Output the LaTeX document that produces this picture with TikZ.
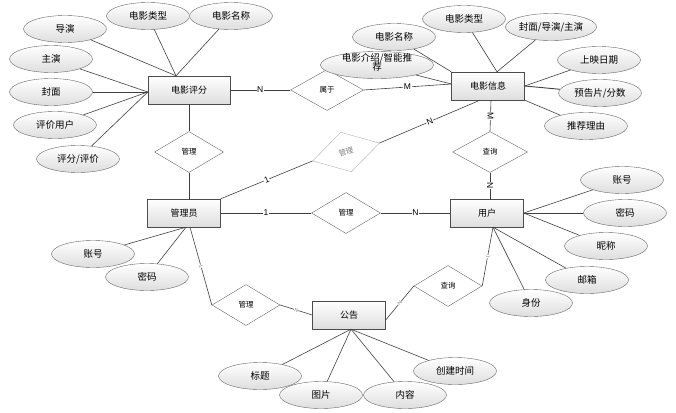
\documentclass[tikz,border=0pt]{standalone}
\usepackage{fontspec}
\newfontfamily\cjk{Noto Sans CJK SC}
\newfontfamily\lat{Liberation Sans}
\usetikzlibrary{shapes.geometric}
\begin{document}
\begin{tikzpicture}[x=1pt,y=-1pt,
  ent/.style={draw=black!70, top color=white, bottom color=black!13, minimum width=73pt, minimum height=28pt, inner sep=0pt, font=\cjk\fontsize{9}{10}\selectfont},
  attr/.style={ellipse, draw=black!60, top color=white, bottom color=black!13, minimum width=83pt, minimum height=27pt, inner sep=0pt, font=\cjk\fontsize{9.5}{11}\selectfont},
  rel/.style={diamond, draw=black!60, fill=white, minimum width=69pt, minimum height=41pt, inner sep=0pt, font=\cjk\fontsize{7.5}{8}\selectfont},
  ln/.style={draw=black!75, line width=0.6pt},
  lbl/.style={fill=white, inner sep=0.6pt, font=\lat\fontsize{8.5}{9}\selectfont},
  tiny/.style={fill=white, inner sep=0.3pt, text=black!50, font=\lat\fontsize{5}{5}\selectfont}]
\useasboundingbox (0,0) rectangle (676,412);
% entities
\node[ent, minimum width=82pt] (pf) at (189,90) {电影评分};
\node[ent] (xx) at (488,86) {电影信息};
\node[ent] (gly) at (184,213) {管理员};
\node[ent] (yh) at (487,213) {用户};
\node[ent] (gg) at (349,315) {公告};
% relations
\node[rel, minimum width=73pt] (sy) at (327,90) {属于};
\node[rel] (gl1) at (189,152) {管理};
\node[rel, draw=black!30, text=black!50, rotate=15] (gl2) at (346,152) {管理};
\node[rel] (gl3) at (346,213) {管理};
\node[rel, minimum width=75pt] (cx1) at (490,152) {查询};
\node[rel, minimum width=68pt] (gl4) at (246,305) {管理};
\node[rel, minimum width=68pt] (cx2) at (448,286) {查询};
% attributes of 电影评分
\node[attr] (a1) at (65,29) {导演};
\node[attr] (a2) at (51,59) {主演};
\node[attr] (a3) at (51,92) {封面};
\node[attr] (a4) at (55,125) {评价用户};
\node[attr] (a5) at (78,159) {评分/评价};
\node[attr] (a6) at (148,16) {电影类型};
\node[attr] (a7) at (231,16) {电影名称};
% attributes of 电影信息
\node[attr] (b1) at (394,37) {电影名称};
\node[attr] (b2) at (464,19) {电影类型};
\node[attr] (b3) at (551,27) {封面/导演/主演};
\node[attr] (b4) at (599,60) {上映日期};
\node[attr] (b5) at (600,93) {预告片/分数};
\node[attr] (b6) at (586,126) {推荐理由};
\node[attr] (b7) at (377,65) {\smash{\parbox{80pt}{\centering 电影介绍/智能推\\[-2pt]荐}}};
% attributes of 用户
\node[attr] (c1) at (622,180) {账号};
\node[attr] (c2) at (625,213) {密码};
\node[attr] (c3) at (606,246) {昵称};
\node[attr] (c4) at (587,280) {邮箱};
\node[attr] (c5) at (531,303) {身份};
% attributes of 管理员
\node[attr] (d1) at (93,254) {账号};
\node[attr] (d2) at (147,277) {密码};
% attributes of 公告
\node[attr] (e1) at (260,376) {标题};
\node[attr] (e2) at (321,395) {图片};
\node[attr] (e3) at (405,395) {内容};
\node[attr] (e4) at (455,371) {创建时间};
% attribute lines
\coordinate (pfT) at ([xshift=-13pt]pf.north);
\coordinate (pfL) at ([yshift=-2pt]pf.west);
\draw[ln] (a1) -- (pfT);
\draw[ln] (a6) -- (pfT);
\draw[ln] (a7) -- (pfT);
\draw[ln] (a2) -- (pfL);
\draw[ln] (a3) -- (pfL);
\draw[ln] (a4) -- (pfL);
\draw[ln] (a5) -- (pfL);
\coordinate (xxT) at ([xshift=9pt]xx.north);
\coordinate (xxL) at ([yshift=2pt]xx.west);
\draw[ln] (b1) -- (xx.north west);
\draw[ln] (b7) -- (xxL);
\draw[ln] (b2) -- (xxT);
\draw[ln] (b3) -- (xxT);
\draw[ln] (b4) -- (xx.east);
\draw[ln, line width=0.9pt] (b5) -- (xx.east);
\draw[ln] (b6) -- (xx.south east);
\draw[ln] (c1) -- (yh.east);
\draw[ln] (c2) -- (yh.east);
\draw[ln] (c3) -- (yh.east);
\coordinate (yhB) at ([xshift=6pt]yh.south);
\draw[ln] (c4) -- (yhB);
\draw[ln] (c5) -- (yhB);
\coordinate (glyB) at ([xshift=2pt]gly.south);
\draw[ln] (d1) -- (glyB);
\draw[ln] (d2) -- (glyB);
\coordinate (ggB) at ([xshift=2pt]gg.south);
\draw[ln] (e1) -- (ggB);
\draw[ln] (e2) -- (ggB);
\draw[ln] (e3) -- (ggB);
\draw[ln] (e4) -- (ggB);
% relationship lines
\draw[ln] (pf.east) -- node[lbl] {N} (sy.west);
\draw[ln] (sy.east) -- node[lbl] {M} (xxL);
\draw[ln] (pf.south) -- (gl1.north);
\draw[ln] (gl1.south) -- ([xshift=5pt]gly.north);
\draw[ln] (gly.north east) -- node[lbl, sloped] {1} (gl2.west);
\draw[ln] (gl2.east) -- node[lbl, sloped] {N} ([xshift=-8pt]xx.south);
\draw[ln] (gly.east) -- node[lbl] {1} (gl3.west);
\draw[ln] (gl3.east) -- node[lbl] {N} (yh.west);
\draw[ln] ([xshift=3pt]xx.south) -- node[lbl, rotate=-90] {M} (cx1.north);
\draw[ln] (cx1.south) -- node[lbl, rotate=-90] {N} ([xshift=3pt]yh.north);
\coordinate (glyB2) at ([xshift=6pt]gly.south);
\draw[ln] (glyB2) -- node[tiny, sloped] {1} (gl4.west);
\draw[ln] (gl4.east) -- node[tiny, sloped] {N} (gg.west);
\draw[ln] (yhB) -- node[tiny, sloped] {1} (cx2.east);
\draw[ln] ([yshift=-5pt]gg.east) -- node[tiny, sloped] {N} (cx2.west);
\end{tikzpicture}
\end{document}
